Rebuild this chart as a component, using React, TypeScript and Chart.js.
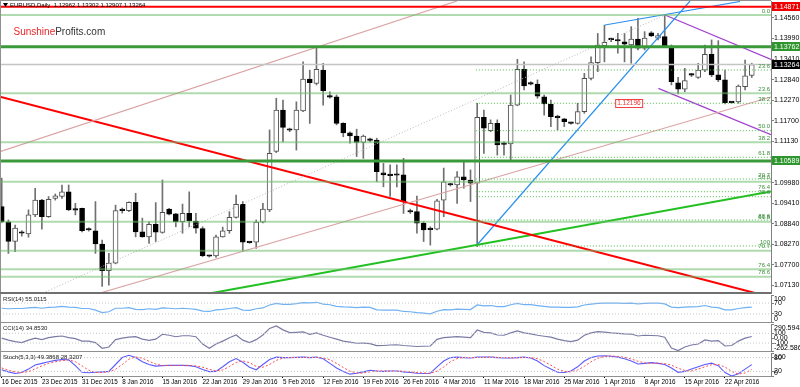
import React, { useEffect, useRef } from "react";
import { Chart, registerables } from "chart.js";
Chart.register(...registerables);

const FONT = '"Liberation Sans", Arial, sans-serif';
Chart.defaults.font.family = FONT;

// ---------- candles (daily bars, index 0 = 16 Dec 2015) ----------
const opens = [
  1.0932, 1.0890, 1.0835, 1.0858, 1.0856, 1.0909, 1.0950, 1.0904, 1.0955, 1.0960,
  1.0973, 1.0923, 1.0927, 1.0871, 1.0865, 1.0828, 1.0754, 1.0775, 1.0921, 1.0921,
  1.0944, 1.0862, 1.0848, 1.0883, 1.0860, 1.0925, 1.0912, 1.0890, 1.0913, 1.0892,
  1.0871, 1.0795, 1.0795, 1.0848, 1.0865, 1.0902, 1.0938, 1.0833, 1.0833, 1.0889,
  1.0923, 1.1085, 1.1200, 1.1145, 1.1145, 1.1198, 1.1286, 1.1274, 1.1311, 1.1237,
  1.1237, 1.1163, 1.1137, 1.1128, 1.1110, 1.1117, 1.1117, 1.1026, 1.1019, 1.1020,
  1.1020, 1.0918, 1.0918, 1.0886, 1.0869, 1.0869, 1.0950, 1.0992, 1.0992, 1.1015,
  1.1006, 1.0997, 1.1180, 1.1143, 1.1163, 1.1106, 1.1106, 1.1214, 1.1313, 1.1273,
  1.1272, 1.1237, 1.1217, 1.1180, 1.1176, 1.1164, 1.1163, 1.1196, 1.1288, 1.1332,
  1.1379, 1.1397, 1.1394, 1.1390, 1.1381, 1.1397, 1.1372, 1.1415, 1.1400, 1.1404,
  1.1376, 1.1276, 1.1258, 1.1298, 1.1291, 1.1311, 1.1355, 1.1298, 1.1284, 1.1222,
  1.1223, 1.1265, 1.12962,
];
const highs = [
  1.1011, 1.0895, 1.0881, 1.0865, 1.0923, 1.0983, 1.0952, 1.0960, 1.0967, 1.0992,
  1.0992, 1.0941, 1.0928, 1.0873, 1.0946, 1.0839, 1.0802, 1.0936, 1.0928, 1.0945,
  1.0969, 1.0900, 1.0890, 1.0943, 1.1006, 1.0927, 1.0913, 1.0939, 1.0973, 1.0913,
  1.0876, 1.0797, 1.0853, 1.0875, 1.0918, 1.0964, 1.0946, 1.0835, 1.0895, 1.0941,
  1.1145, 1.1233, 1.1228, 1.1150, 1.1223, 1.1334, 1.1311, 1.1376, 1.1330, 1.1251,
  1.1242, 1.1165, 1.1140, 1.1147, 1.1131, 1.1122, 1.1122, 1.1052, 1.1048, 1.1048,
  1.1066, 1.0925, 1.0961, 1.0890, 1.0876, 1.0952, 1.1039, 1.0997, 1.1029, 1.1057,
  1.1034, 1.1219, 1.1200, 1.1173, 1.1173, 1.1112, 1.1242, 1.1341, 1.1334, 1.1279,
  1.1284, 1.1242, 1.1228, 1.1186, 1.1177, 1.1165, 1.1219, 1.1302, 1.1348, 1.1413,
  1.1436, 1.1400, 1.1413, 1.1413, 1.1432, 1.1455, 1.1418, 1.1418, 1.1413, 1.1464,
  1.1381, 1.1291, 1.1316, 1.1302, 1.1330, 1.1381, 1.1395, 1.1393, 1.1311, 1.1223,
  1.1270, 1.1339, 1.13302,
];
const lows = [
  1.0887, 1.0802, 1.0807, 1.0850, 1.0847, 1.0904, 1.0869, 1.0902, 1.0950, 1.0955,
  1.0921, 1.0909, 1.0862, 1.0864, 1.0802, 1.0710, 1.0714, 1.0773, 1.0914, 1.0918,
  1.0848, 1.0847, 1.0830, 1.0835, 1.0858, 1.0909, 1.0876, 1.0858, 1.0876, 1.0858,
  1.0793, 1.0792, 1.0791, 1.0847, 1.0858, 1.0900, 1.0807, 1.0830, 1.0816, 1.0887,
  1.0918, 1.1082, 1.1112, 1.1140, 1.1089, 1.1196, 1.1163, 1.1270, 1.1214, 1.1233,
  1.1159, 1.1126, 1.1108, 1.1071, 1.1066, 1.1112, 1.1001, 1.0987, 1.0960, 1.0987,
  1.0913, 1.0913, 1.0858, 1.0835, 1.0825, 1.0867, 1.0904, 1.0989, 1.0941, 1.0983,
  1.0946, 1.0821, 1.1080, 1.1140, 1.1075, 1.1075, 1.1062, 1.1212, 1.1256, 1.1270,
  1.1233, 1.1186, 1.1154, 1.1145, 1.1154, 1.1161, 1.1161, 1.1191, 1.1284, 1.1307,
  1.1334, 1.1390, 1.1358, 1.1334, 1.1330, 1.1367, 1.1367, 1.1404, 1.1395, 1.1375,
  1.1270, 1.1245, 1.1251, 1.1293, 1.1288, 1.1307, 1.1293, 1.1279, 1.1217, 1.1219,
  1.1219, 1.1256, 1.12907,
];
const closes = [
  1.0890, 1.0835, 1.0872, 1.0859, 1.0909, 1.0950, 1.0904, 1.0952, 1.0962, 1.0973,
  1.0923, 1.0922, 1.0865, 1.0867, 1.0828, 1.0754, 1.0775, 1.0921, 1.0922, 1.0944,
  1.0862, 1.0848, 1.0883, 1.0861, 1.0916, 1.0911, 1.0890, 1.0913, 1.0892, 1.0872,
  1.0796, 1.0794, 1.0848, 1.0865, 1.0902, 1.0938, 1.0833, 1.0832, 1.0889, 1.0925,
  1.1080, 1.1200, 1.1152, 1.1144, 1.1200, 1.1286, 1.1276, 1.1313, 1.1254, 1.1236,
  1.1163, 1.1137, 1.1128, 1.1110, 1.1128, 1.1116, 1.1029, 1.1020, 1.1018, 1.1019,
  1.0946, 1.0917, 1.0886, 1.0867, 1.0868, 1.0948, 1.1001, 1.0993, 1.1015, 1.1006,
  1.0997, 1.1180, 1.1150, 1.1163, 1.1103, 1.1105, 1.1214, 1.1313, 1.1267, 1.1272,
  1.1239, 1.1217, 1.1182, 1.1179, 1.1168, 1.1163, 1.1196, 1.1288, 1.1332, 1.1381,
  1.1388, 1.1396, 1.1392, 1.1383, 1.1397, 1.1372, 1.1400, 1.1406, 1.1407, 1.1376,
  1.1279, 1.1258, 1.1282, 1.1297, 1.1311, 1.1355, 1.1298, 1.1284, 1.1221, 1.1221,
  1.1267, 1.1295, 1.13264,
];

// ---------- indicators ----------
const rsiValues = [
  51, 49, 50, 50, 52, 54, 51, 54, 55, 58,
  55, 54, 50, 50, 44, 35, 38, 51, 51, 53,
  47, 46, 49, 47, 52, 51, 49, 51, 49, 47,
  40, 39, 45, 47, 50, 53, 44, 43, 49, 52,
  63, 69, 65, 65, 68, 72, 71, 73, 66, 64,
  58, 56, 55, 53, 55, 54, 45, 44, 44, 44,
  39, 38, 35, 33, 30, 40, 46, 45, 48, 47,
  46, 63, 60, 61, 57, 57, 64, 69, 64, 64,
  61, 58, 55, 55, 54, 54, 56, 63, 66, 69,
  70, 70, 70, 69, 70, 67, 69, 70, 70, 67,
  55, 53, 55, 56, 57, 61, 55, 53, 45, 45,
  50, 53, 55.0115,
];
const cciValues = [
  0, -40, -70, -90, -40, 0, -30, 10, 30, 45,
  10, -10, -60, -60, -90, -207, -180, -30, 0, 20,
  30, -20, -45, -20, 80, 60, 30, 50, 50, 30,
  -120, -207, -120, -60, 10, 65, -40, -90, -30, 65,
  200, 250, 170, 113, 120, 130, 80, 110, 60, 20,
  -20, -60, -80, -104, -100, -110, -153, -150, -140, -135,
  -150, -160, -170, -165, -160, -23, 10, 20, 30, 20,
  10, 168, 120, 110, 65, 60, 110, 148, 110, 90,
  60, 40, 20, -20, -50, -71, -40, 60, 110, 133,
  125, 110, 100, 90, 85, 45, 60, 55, 50, 20,
  -200, -255, -180, -140, -120, -36, -60, -50, -160, -150,
  -60, 0, 34.853,
];
const stochMain = [
  27, 18, 11, 15, 30, 48, 55, 62, 68, 72,
  70, 45, 16, 14, 16, 18, 20, 50, 80, 90,
  80, 62, 50, 43, 45, 47, 46, 46, 45, 40,
  28, 19, 20, 40, 62, 76, 60, 38, 27, 50,
  72, 82, 80, 80, 81, 82, 80, 82, 75, 55,
  35, 20, 8, 12, 18, 25, 22, 20, 22, 22,
  18, 15, 12, 11, 12, 40, 65, 80, 82, 80,
  78, 82, 82, 82, 80, 78, 78, 80, 82, 78,
  65, 45, 30, 16, 15, 22, 40, 65, 80, 87,
  88, 86, 82, 75, 65, 52, 55, 58, 55, 50,
  35, 16, 20, 30, 40, 50, 56, 45, 15, 0,
  10, 30, 49.3868,
];
const stochSignal = [
  35, 25, 18, 15, 19, 31, 44, 55, 62, 67,
  70, 62, 44, 25, 15, 16, 18, 29, 50, 73,
  83, 77, 64, 52, 46, 45, 46, 46, 46, 44,
  38, 29, 22, 26, 41, 59, 66, 58, 42, 38,
  50, 68, 78, 81, 80, 81, 81, 81, 79, 71,
  55, 37, 21, 13, 13, 18, 22, 22, 21, 21,
  21, 18, 15, 13, 12, 21, 39, 62, 76, 81,
  80, 80, 81, 82, 81, 80, 79, 79, 80, 80,
  75, 63, 47, 30, 20, 18, 26, 42, 62, 77,
  85, 87, 85, 81, 74, 64, 57, 55, 56, 54,
  47, 34, 24, 22, 30, 40, 49, 50, 39, 20,
  8, 13, 28.3207,
];

// ---------- axes ----------
const dateLabels = [
  "16 Dec 2015", "23 Dec 2015", "31 Dec 2015", "8 Jan 2016", "15 Jan 2016",
  "22 Jan 2016", "29 Jan 2016", "5 Feb 2016", "12 Feb 2016", "19 Feb 2016",
  "26 Feb 2016", "4 Mar 2016", "11 Mar 2016", "18 Mar 2016", "25 Mar 2016",
  "1 Apr 2016", "8 Apr 2016", "15 Apr 2016", "22 Apr 2016",
];
const dateLabelBars = [0, 6, 12, 18, 24, 30, 36, 42, 48, 54, 60, 66, 72, 78, 84, 90, 96, 102, 108];
const priceTicks = [1.1456, 1.1399, 1.1341, 1.1284, 1.1227, 1.117, 1.1113, 1.0998, 1.0941, 1.0884, 1.0827, 1.077, 1.0713];
const rsiTicks = [100, 70, 30, 0];
const rsiTickLabels = ["100", "70", "30", "0"];
const cciTicks = [290.5943, 100, 0, -100, -262.5865];
const cciTickLabels = ["290.5943", "100", "0.00", "-100", "-262.5865"];
const stochTicks = [100, 80, 20, 0];
const stochTickLabels = ["100", "80", "20", "0"];

// ---------- objects on the price chart ----------
const priceTagValues = [1.14871, 1.13762, 1.13264, 1.10589];
const priceTagColors = ["#f00000", "#2f962f", "#000000", "#2f962f"];
const redLevel = 1.14871;
const greenLevels = [1.13762, 1.10589];
const bidLevel = 1.13264;
const fibSolidLevels = [1.14642, 1.12467, 1.11106, 1.10012, 1.08901, 1.08095, 1.07578, 1.07373];
const fibSolidNames = ["0.0", "23.6", "38.2", "50.0", "61.8", "70.7", "76.4", "78.6"];
const fibDottedStart = 70.8;
const fibDottedLevels = [1.13115, 1.1219, 1.11428, 1.1069, 1.10087, 1.09734, 1.09595, 1.08948, 1.08226];
const fibDottedNames = ["23.6", "38.2", "50.0", "61.8", "70.7", "76.4", "78.6", "88.6", "100"];
const markerValue = 1.12196;
const markerBar = 91.6;
const redTrend = [[-0.254, 1.12373], [112.48, 1.0692]];
const pinkUpper = [[-0.254, 1.10845], [67.99, 1.15031]];
const pinkLower = [[14.68, 1.0692], [114.87, 1.12365]];
const grayDotted = [[6.17, 1.0692], [99.04, 1.14642]];
const blueSteep = [[70.97, 1.08253], [102.78, 1.15031]];
const blueUpper = [[90.08, 1.14365], [110.24, 1.15017]];
const purpleUpper = [[99.04, 1.14642], [114.87, 1.13406]];
const purpleLower = [[98.04, 1.12606], [114.87, 1.1132]];
const greenTrend = [[31.4, 1.0692], [114.87, 1.0974]];

const MAIN_MIN = 1.0692;
const MAIN_MAX = 1.15031;
const X_MIN = -0.254;
const X_MAX = 114.87;
const AXIS_W = 29;

function xScale(display: boolean): any {
  return {
    type: "linear",
    min: X_MIN,
    max: X_MAX,
    offset: false,
    display,
    grid: { display: false, offset: false },
  };
}

function yScale(min: number, max: number, list: number[], showLabels: boolean, fmt?: (v: any) => string): any {
  return {
    type: "linear",
    position: "right",
    min,
    max,
    afterBuildTicks: (s: any) => {
      s.ticks = list.map((v) => ({ value: v }));
    },
    afterFit: (s: any) => {
      s.width = AXIS_W;
      s.paddingTop = 0;
      s.paddingBottom = 0;
    },
    grid: { drawOnChartArea: false, drawTicks: true, tickLength: 3, color: "#808080" },
    border: { display: true, color: "#808080" },
    ticks: {
      display: showLabels,
      autoSkip: false,
      padding: 0,
      font: { family: FONT, size: 7 },
      color: "#000",
      callback: fmt,
    },
  };
}

function seg(points: number[][], color: string, width: number, dash?: number[]): any {
  return {
    type: "line",
    data: points.map((p) => ({ x: p[0], y: p[1] })),
    borderColor: color,
    borderWidth: width,
    borderDash: dash || [],
    pointRadius: 0,
    fill: false,
    tension: 0,
    order: 0,
  };
}

function hline(v: number, from: number, color: string, width: number, dash?: number[]): any {
  return seg([[from, v], [X_MAX, v]], color, width, dash);
}

function indicatorLine(values: number[], color: string, width: number, dash?: number[]): any {
  return {
    type: "line",
    data: values.map((v, i) => ({ x: i, y: v })),
    borderColor: color,
    borderWidth: width,
    borderDash: dash || [],
    pointRadius: 0,
    fill: false,
    tension: 0,
    order: 0,
  };
}

function isDoji(i: number) {
  return Math.abs(closes[i] - opens[i]) < 0.00025;
}

const mainDecor = {
  id: "mainDecor",
  afterDraw(chart: any) {
    const { ctx, chartArea: a, scales } = chart;
    const y = scales.y;
    const x = scales.x;
    ctx.save();
    // frame
    ctx.fillStyle = "#909090";
    ctx.fillRect(0, 0, a.right, 1);
    ctx.fillRect(0, 0, 1, a.bottom);
    ctx.fillStyle = "#707070";
    ctx.fillRect(0, a.bottom - 1, a.right, 2);

    // title
    ctx.fillStyle = "#000";
    ctx.beginPath();
    ctx.moveTo(3, 3);
    ctx.lineTo(8, 3);
    ctx.lineTo(5.5, 7);
    ctx.closePath();
    ctx.fill();
    ctx.font = `6px ${FONT}`;
    ctx.textAlign = "left";
    ctx.textBaseline = "middle";
    ctx.fillText("EURUSD,Daily  1.12962 1.13302 1.12907 1.13264", 10, 5);

    // watermark
    ctx.font = `10px ${FONT}`;
    ctx.textBaseline = "alphabetic";
    ctx.fillStyle = "#e8262a";
    ctx.fillText("Sunshine", 13.5, 35);
    const w = ctx.measureText("Sunshine").width;
    ctx.fillStyle = "#333";
    ctx.fillText("Profits.com", 13.5 + w, 35);

    // fibonacci level labels
    ctx.font = `6px ${FONT}`;
    ctx.fillStyle = "#3a8f3a";
    ctx.textAlign = "right";
    ctx.textBaseline = "bottom";
    fibSolidLevels.forEach((v, k) => {
      ctx.fillText(fibSolidNames[k], a.right - 1, y.getPixelForValue(v) - 1);
    });
    fibDottedLevels.forEach((v, k) => {
      ctx.fillText(fibDottedNames[k], a.right - 1, y.getPixelForValue(v) - 1);
    });

    // price marker in chart
    const mx = x.getPixelForValue(markerBar);
    const my = y.getPixelForValue(markerValue);
    ctx.fillStyle = "#fff";
    ctx.fillRect(mx, my - 4, 27, 8);
    ctx.strokeStyle = "#f04040";
    ctx.lineWidth = 1;
    ctx.strokeRect(mx + 0.5, Math.round(my - 4) + 0.5, 27, 8);
    ctx.fillStyle = "#f03030";
    ctx.font = `6.5px ${FONT}`;
    ctx.textAlign = "left";
    ctx.textBaseline = "middle";
    ctx.fillText(markerValue.toFixed(5), mx + 2, my + 0.5);

    // price tags on the axis
    ctx.font = `7px ${FONT}`;
    priceTagValues.forEach((v, k) => {
      const py = y.getPixelForValue(v);
      ctx.fillStyle = priceTagColors[k];
      ctx.fillRect(a.right + 1, Math.round(py - 4.5), AXIS_W, 9);
      ctx.fillStyle = "#fff";
      ctx.fillText(v.toFixed(5), a.right + 3, py + 0.5);
    });
    ctx.restore();
  },
};

function panelDecor(id: string, title: string, vals: number[], labels: string[]) {
  return {
    id,
    afterDraw(chart: any) {
      const { ctx, chartArea: a, scales } = chart;
      const y = scales.y;
      ctx.save();
      ctx.fillStyle = "#909090";
      ctx.fillRect(0, a.bottom, a.right, 1);
      ctx.fillRect(0, 0, 1, a.bottom + 1);
      ctx.font = `6px ${FONT}`;
      ctx.fillStyle = "#202020";
      ctx.textAlign = "left";
      ctx.textBaseline = "middle";
      ctx.fillText(title, 3, a.top + 4.5);
      ctx.font = `7px ${FONT}`;
      ctx.fillStyle = "#000";
      vals.forEach((v, k) => {
        const py = y.getPixelForValue(v);
        if (k === 0) {
          ctx.textBaseline = "top";
          ctx.fillText(labels[k], a.right + 3, py + 1);
        } else if (k === vals.length - 1) {
          ctx.textBaseline = "bottom";
          ctx.fillText(labels[k], a.right + 3, py + 1);
        } else {
          ctx.textBaseline = "middle";
          ctx.fillText(labels[k], a.right + 3, py);
        }
      });
      ctx.restore();
    },
  };
}

const baseOptions: any = {
  responsive: false,
  animation: false,
  devicePixelRatio: 1,
  events: [],
  plugins: { legend: { display: false }, tooltip: { enabled: false } },
};

export default function App() {
  const mainRef = useRef<HTMLCanvasElement>(null);
  const rsiRef = useRef<HTMLCanvasElement>(null);
  const cciRef = useRef<HTMLCanvasElement>(null);
  const stochRef = useRef<HTMLCanvasElement>(null);

  useEffect(() => {
    document.body.style.margin = "0";
    const charts: Chart[] = [];

    const wickData = highs.map((h, i) => ({ x: i, y: [lows[i], h] }));
    const bodyData = opens.map((o, i) => ({ x: i, y: [o, closes[i]] }));

    const lineSets: any[] = [
      ...fibSolidLevels.map((v) => hline(v, X_MIN, "rgba(110,190,110,0.55)", 2)),
      ...fibDottedLevels.map((v) => hline(v, fibDottedStart, "#4cb84c", 1, [1, 2])),
      hline(bidLevel, X_MIN, "#c4c4c4", 1.5),
      hline(redLevel, X_MIN, "#ff0000", 2),
      ...greenLevels.map((v) => hline(v, X_MIN, "#3a9a3a", 3)),
      seg(grayDotted, "#b8b8b8", 1, [1, 2]),
      seg(pinkUpper, "#dba3a3", 1.2),
      seg(pinkLower, "#dba3a3", 1.2),
      seg(redTrend, "#ff0000", 2),
      seg(greenTrend, "#22c022", 2),
      seg(blueSteep, "#2a8ff0", 1.2),
      seg(blueUpper, "#2a8ff0", 1.2),
      seg(purpleUpper, "#a040d0", 1.3),
      seg(purpleLower, "#a040d0", 1.3),
    ];

    charts.push(
      new Chart(mainRef.current as HTMLCanvasElement, {
        type: "bar",
        data: {
          datasets: [
            ...lineSets,
            {
              type: "bar",
              data: bodyData as any,
              grouped: false,
              barThickness: 5,
              minBarLength: 1.5,
              borderSkipped: false,
              borderWidth: 1,
              backgroundColor: (c: any) => {
                const i = c.dataIndex;
                if (i === undefined) return "#000";
                if (isDoji(i)) return "#000";
                return closes[i] > opens[i] ? "#ffffff" : "#000000";
              },
              borderColor: (c: any) => {
                const i = c.dataIndex;
                if (i === undefined) return "#000";
                return closes[i] > opens[i] && !isDoji(i) ? "#505050" : "#000000";
              },
              order: 5,
            } as any,
            {
              type: "bar",
              data: wickData as any,
              grouped: false,
              barThickness: 1,
              borderWidth: 0,
              backgroundColor: "#707070",
              order: 6,
            } as any,
          ],
        },
        options: {
          ...baseOptions,
          layout: { padding: { top: 1, bottom: 1, left: 0, right: 0 } },
          scales: {
            x: xScale(false),
            y: yScale(MAIN_MIN, MAIN_MAX, priceTicks, true, (v: any) => Number(v).toFixed(5)),
          },
        },
        plugins: [mainDecor],
      })
    );

    charts.push(
      new Chart(rsiRef.current as HTMLCanvasElement, {
        type: "line",
        data: {
          datasets: [
            hline(70, X_MIN, "#c8c8c8", 1, [1, 2]),
            hline(30, X_MIN, "#c8c8c8", 1, [1, 2]),
            indicatorLine(rsiValues, "#6fb1f2", 1.2),
          ],
        },
        options: {
          ...baseOptions,
          layout: { padding: { top: 1, bottom: 1, left: 0, right: 0 } },
          scales: { x: xScale(false), y: yScale(0, 100, rsiTicks, false) },
        },
        plugins: [panelDecor("rsiDecor", "RSI(14) 55.0115", rsiTicks, rsiTickLabels)],
      })
    );

    charts.push(
      new Chart(cciRef.current as HTMLCanvasElement, {
        type: "line",
        data: {
          datasets: [
            hline(100, X_MIN, "#c8c8c8", 1, [1, 2]),
            hline(-100, X_MIN, "#c8c8c8", 1, [1, 2]),
            indicatorLine(cciValues, "#7b7ba6", 1.2),
          ],
        },
        options: {
          ...baseOptions,
          layout: { padding: { top: 1, bottom: 1, left: 0, right: 0 } },
          scales: { x: xScale(false), y: yScale(-262.5865, 290.5943, cciTicks, false) },
        },
        plugins: [panelDecor("cciDecor", "CCI(14) 34.8530", cciTicks, cciTickLabels)],
      })
    );

    charts.push(
      new Chart(stochRef.current as HTMLCanvasElement, {
        type: "line",
        data: {
          datasets: [
            hline(80, X_MIN, "#c8c8c8", 1, [1, 2]),
            hline(20, X_MIN, "#c8c8c8", 1, [1, 2]),
            indicatorLine(stochSignal, "#ff4d4d", 1, [2, 2]),
            indicatorLine(stochMain, "#5b5bff", 1.1),
          ],
        },
        options: {
          ...baseOptions,
          layout: { padding: { top: 1, bottom: 0, left: 0, right: 0 } },
          scales: {
            x: {
              type: "linear",
              min: X_MIN,
              max: X_MAX,
              offset: false,
              position: "bottom",
              afterBuildTicks: (s: any) => {
                s.ticks = dateLabelBars.map((v) => ({ value: v }));
              },
              afterFit: (s: any) => {
                s.height = 11;
                s.paddingLeft = 0;
                s.paddingRight = 0;
              },
              grid: { display: true, drawOnChartArea: false, drawTicks: true, tickLength: 2, color: "#000", offset: false },
              border: { display: false },
              ticks: {
                autoSkip: false,
                maxRotation: 0,
                minRotation: 0,
                align: "start",
                padding: 0,
                font: { family: FONT, size: 6.3 },
                color: "#000",
                callback: (_v: any, idx: number) => dateLabels[idx],
              },
            } as any,
            y: yScale(0, 100, stochTicks, false),
          },
        },
        plugins: [panelDecor("stochDecor", "Stoch(5,3,3) 49.3868 28.3207", stochTicks, stochTickLabels)],
      })
    );

    return () => charts.forEach((c) => c.destroy());
  }, []);

  return (
    <div style={{ position: "absolute", left: 0, top: 0, width: 800, height: 387, background: "#fff", overflow: "hidden" }}>
      <canvas ref={mainRef} width={800} height={294} style={{ position: "absolute", left: 0, top: 0 }} />
      <canvas ref={rsiRef} width={800} height={29} style={{ position: "absolute", left: 0, top: 294 }} />
      <canvas ref={cciRef} width={800} height={29} style={{ position: "absolute", left: 0, top: 323 }} />
      <canvas ref={stochRef} width={800} height={35} style={{ position: "absolute", left: 0, top: 352 }} />
    </div>
  );
}
